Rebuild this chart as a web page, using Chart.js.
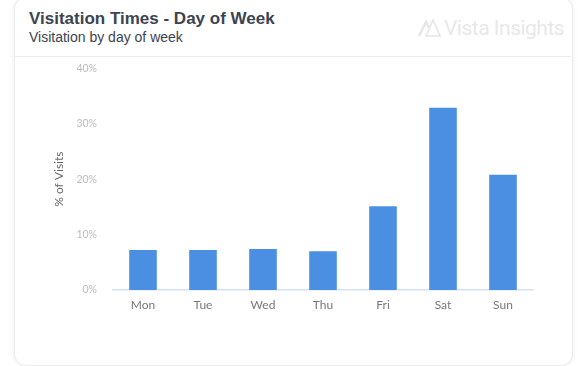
<!DOCTYPE html>
<html>
<head>
<meta charset="utf-8">
<script src="https://cdn.jsdelivr.net/npm/chart.js@4/dist/chart.umd.min.js"></script>
<style>
  html,body{margin:0;padding:0;background:#fff;width:578px;height:366px;overflow:hidden;}
  .card{position:absolute;left:14px;top:-3px;width:557px;height:367px;background:#fff;border:1px solid #ececec;border-radius:12px;box-shadow:0 0 4px rgba(0,0,0,0.08);}
  .title{position:absolute;left:29px;top:9px;font-family:"Liberation Sans",Arial,sans-serif;font-weight:bold;font-size:17px;color:#3b4450;}
  .subtitle{position:absolute;left:29px;top:29px;font-family:"Liberation Sans",Arial,sans-serif;font-size:14px;color:#3b4450;}
  .sep{position:absolute;left:15px;width:556px;top:56px;height:1px;background:#ececec;}
  .wm{position:absolute;left:417px;top:16px;font-family:Roboto,"Liberation Sans",sans-serif;font-size:21px;color:#e8e8e8;letter-spacing:-0.5px;}
  .wm svg{vertical-align:-2px;margin-right:3px;}
  .wrap{position:absolute;left:14px;top:46px;width:558px;height:312px;}
</style>
</head>
<body>
<div class="card"></div>
<div class="title">Visitation Times - Day of Week</div>
<div class="subtitle">Visitation by day of week</div>
<div class="wm"><svg width="24" height="20" viewBox="0 0 24 20"><path d="M2 19 L9 5 L12 11" fill="none" stroke="#e6e6e6" stroke-width="2.5"/><path d="M9 19 L16 3 L23 19 Z" fill="none" stroke="#e6e6e6" stroke-width="1.6"/></svg>Vista Insights</div>
<div class="sep"></div>
<div class="wrap"><canvas id="c"></canvas></div>
<script>
const categories = ["Mon","Tue","Wed","Thu","Fri","Sat","Sun"];
const visitsPct = [7.2, 7.2, 7.4, 7.0, 15.1, 32.9, 20.8];
const yTicks = [0, 10, 20, 30, 40];

new Chart(document.getElementById('c'), {
  type: 'bar',
  data: {
    labels: categories,
    datasets: [{
      data: visitsPct,
      backgroundColor: '#4a8fe2',
      borderWidth: 0,
      barPercentage: 0.46,
      categoryPercentage: 1.0
    }]
  },
  options: {
    responsive: true,
    maintainAspectRatio: false,
    animation: false,
    devicePixelRatio: 1,
    layout: { padding: { top: 9, right: 39, left: 0, bottom: 0 } },
    plugins: { legend: { display: false }, tooltip: { enabled: false } },
    scales: {
      x: {
        grid: { display: false, drawTicks: false },
        border: { display: true, color: '#d3e2f4', width: 1.5 },
        ticks: { color: '#777', font: { family: 'Lato', size: 12 }, padding: 8 },
        afterFit: s => { s.height = 68; }
      },
      y: {
        min: 0, max: 40,
        afterBuildTicks: s => { s.ticks = yTicks.map(v => ({ value: v })); },
        grid: { display: false, drawTicks: false },
        border: { display: false },
        ticks: { color: '#bbb', font: { family: 'Lato', size: 10.5 }, padding: 16, callback: v => v + '%' },
        title: { display: true, text: '% of Visits', color: '#666', font: { family: 'Lato', size: 12 }, padding: { top: 38, bottom: 0 } },
        afterFit: s => { s.width = 99; }
      }
    }
  }
});
</script>
</body>
</html>
